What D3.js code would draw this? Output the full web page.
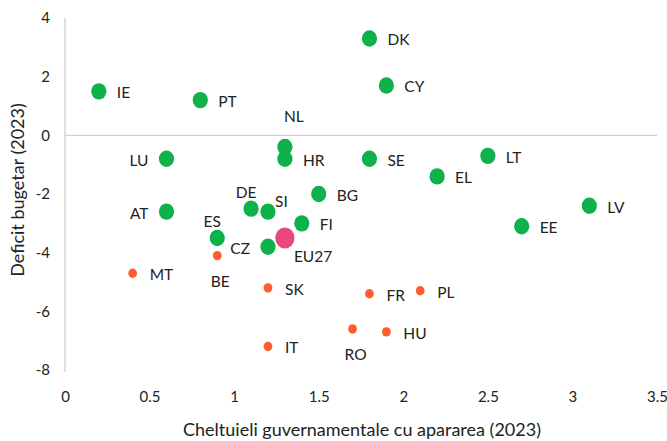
<!DOCTYPE html>
<html><head><meta charset="utf-8">
<script src="https://cdn.jsdelivr.net/npm/d3@7"></script>
<style>body{margin:0;background:#fff}svg{display:block}text{font-family:Lato,"Open Sans",sans-serif;fill:#222}</style>
</head><body><svg id="c" width="667" height="441"></svg>
<script>
const countries = ["IE","PT","DK","CY","NL","HR","LU","SE","LT","EL","BG","LV","EE","AT","DE","SI","FI","ES","CZ","BE","MT","SK","IT","FR","PL","RO","HU","EU27"];
const defence   = [0.2,0.8,1.8,1.9,1.3,1.3,0.6,1.8,2.5,2.2,1.5,3.1,2.7,0.6,1.1,1.2,1.4,0.9,1.2,0.9,0.4,1.2,1.2,1.8,2.1,1.7,1.9,1.3];
const deficit   = [1.5,1.2,3.3,1.7,-0.4,-0.8,-0.8,-0.8,-0.7,-1.4,-2.0,-2.4,-3.1,-2.6,-2.5,-2.6,-3.0,-3.5,-3.8,-4.1,-4.7,-5.2,-7.2,-5.4,-5.3,-6.6,-6.7,-3.5];
const group     = ["ok","ok","ok","ok","ok","ok","ok","ok","ok","ok","ok","ok","ok","ok","ok","ok","ok","ok","ok","edp","edp","edp","edp","edp","edp","edp","edp","eu"];
// label placement: r=right, l=left, a=above, b=below
const labelPos  = ["r","r","r","r","a","r","l","r","r","r","r","r","r","l","a","ra","r","a","l","b","r","r","r","r","r","b","r","rb"];
const xTicks = [0,0.5,1,1.5,2,2.5,3,3.5];
const yTicks = [4,2,0,-2,-4,-6,-8];

const svg = d3.select("#c");
const x = d3.scaleLinear().domain([0,3.5]).range([65,657]);
const y = d3.scaleLinear().domain([-8,4]).range([370,18]);

svg.append("line").attr("x1",x(0)).attr("x2",x(0)).attr("y1",y(4)).attr("y2",y(-8)+2).attr("stroke","#d0d0d0").attr("stroke-width",1.3);
svg.append("line").attr("x1",x(0)).attr("x2",x(3.5)).attr("y1",y(0)).attr("y2",y(0)).attr("stroke","#d0d0d0").attr("stroke-width",1.3);

const xAxis = d3.axisBottom(x).tickValues(xTicks).tickSize(0).tickPadding(0).tickFormat(d=>String(d));
const gx = svg.append("g").attr("transform","translate(0,397)").call(xAxis);
gx.select(".domain").remove();
gx.selectAll("text").attr("font-size",15).attr("dy","0.35em").attr("fill","#222");

const yAxis = d3.axisLeft(y).tickValues(yTicks).tickSize(0).tickPadding(0).tickFormat(d=>String(d));
const gy = svg.append("g").attr("transform","translate(50,0)").call(yAxis);
gy.select(".domain").remove();
gy.selectAll("text").attr("font-size",15).attr("fill","#222");

svg.append("text").attr("x",362).attr("y",430).attr("dy","0.35em").attr("text-anchor","middle").attr("font-size",18).text("Cheltuieli guvernamentale cu apararea (2023)");
svg.append("text").attr("transform","translate(18,190) rotate(-90)").attr("dy","0.35em").attr("text-anchor","middle").attr("font-size",18).text("Deficit bugetar (2023)");

const color = {ok:"#0fb14a", edp:"#ff5d2e", eu:"#e8487b"};
const rx = {ok:7.6, edp:4.4, eu:9.6};
const ry = {ok:8.2, edp:4.7, eu:10.5};

const data = countries.map((c,i)=>({c, x:defence[i], y:deficit[i], g:group[i], p:labelPos[i]}));
const order = data.filter(d=>d.g!=="eu").concat(data.filter(d=>d.g==="eu"));
svg.append("g").selectAll("ellipse").data(order).join("ellipse")
  .attr("cx",d=>x(d.x)).attr("cy",d=>y(d.y)).attr("rx",d=>rx[d.g]).attr("ry",d=>ry[d.g]).attr("fill",d=>color[d.g]);

svg.append("g").selectAll("text").data(data).join("text")
  .attr("font-size",15.5).attr("dy","0.35em")
  .text(d=>d.c)
  .each(function(d){
    const cx=x(d.x), cy=y(d.y), s=d3.select(this);
    const off = d.g==="edp"?17:18;
    if(d.p==="r"){s.attr("x",cx+off).attr("y",cy+1.5).attr("text-anchor","start");}
    else if(d.p==="l"){s.attr("x",cx-off).attr("y",cy+1.5).attr("text-anchor","end");}
    else if(d.p==="a"){s.attr("x",cx+(d.c==="NL"?9:-5)).attr("y",cy-(d.c==="NL"?30:16)).attr("text-anchor","middle");}
    else if(d.p==="ra"){s.attr("x",cx+7).attr("y",cy-10).attr("text-anchor","start");}
    else if(d.p==="b"){s.attr("x",cx+3).attr("y",cy+26).attr("text-anchor","middle");}
    else if(d.p==="rb"){s.attr("x",cx+9).attr("y",cy+19).attr("text-anchor","start");}
  });
</script></body></html>
